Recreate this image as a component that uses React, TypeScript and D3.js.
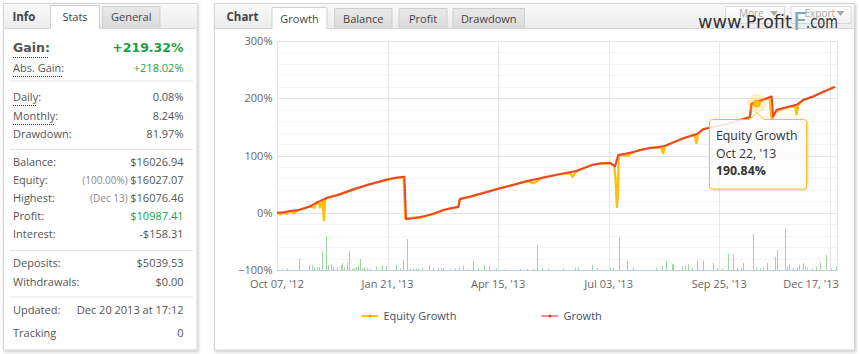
import React from "react";
import * as d3 from "d3";

// ---------- DATA ----------
// x = trading-day index (ordinal axis), y = growth in %
const growthSeries: [number, number][] = [
  [0, 0], [2.5, 1], [4.7, 3], [8, 5], [11.9, 11], [14.9, 19], [18, 26], [22, 31], [27.6, 41],
  [33, 49], [39.7, 58], [43, 61], [46.1, 63], [46.7, -11], [50, -9], [54.2, -5], [57, -1],
  [60.2, 5], [63, 8], [65.6, 10], [66.2, 24], [69.8, 28], [75, 35], [80.1, 42], [85, 48],
  [90.3, 55], [96, 61], [102.4, 67.5], [105, 70], [108.4, 73], [111, 78], [114.4, 84],
  [117, 86], [120.5, 87], [122.3, 81], [123.5, 101], [126, 103], [128.9, 106], [131, 109],
  [134.9, 113], [137, 114], [139.8, 116], [143, 122], [147, 130], [149, 133], [151.8, 137],
  [154.2, 146], [158, 150], [161.5, 153.5], [166, 160], [171.1, 167], [171.7, 190],
  [173.6, 194], [176, 198], [179, 203], [179.5, 168], [180.8, 180], [184, 184], [188, 188.5],
  [190.4, 197], [194, 203], [198, 212], [201.9, 220],
];

const equitySeries: [number, number][] = [
  [0, 0], [1.2, -3], [2.5, 1], [3.4, -2], [4.7, 3], [6, -1], [7.5, 4], [11.9, 11], [13.5, 9],
  [14.4, 19], [15.2, 17], [15.6, 9], [16.0, 19], [16.5, 20], [17.0, -13], [17.4, 22], [18, 26],
  [22, 31], [27.6, 40], [33, 49], [39.7, 57], [43, 61], [45.8, 62], [46.1, 30], [46.4, -10],
  [46.7, -11], [50, -8], [52, -9], [54.2, -5], [57, -2], [60.2, 4], [63, 8], [65.6, 10],
  [66.2, 24], [69.8, 28], [75, 35], [80.1, 42], [85, 48], [90.3, 55], [93, 52], [94, 55],
  [96, 61], [102.4, 67.5], [106, 69], [107, 63], [108.4, 73], [111, 78], [114.4, 84], [117, 86],
  [120.5, 87], [122, 82], [122.5, 60], [123, 10], [123.4, 40], [123.7, 101], [126, 100],
  [126.8, 99], [128.9, 106], [131, 109], [134.9, 113], [137, 114], [139, 114], [139.8, 104],
  [140.3, 116], [143, 122], [147, 130], [151, 137], [151.8, 122], [152.4, 137], [154.2, 146],
  [158, 150], [161.5, 153.5], [166, 160], [171.1, 167], [171.7, 190], [173.6, 190.84],
  [176, 197], [178.3, 201], [178.6, 180], [179, 162], [179.5, 168], [180.8, 178], [184, 183],
  [187.5, 187], [188, 172], [188.6, 188], [190.4, 197], [194, 203], [198, 212], [201.9, 220],
];

// daily volume-like bars, [index, height in % units above the -100% base]
const volumeBars: [number, number][] = [
  [1.7, 2], [3.7, 3], [8.1, 20], [11.7, 9], [12.5, 8], [13.5, 5], [14.4, 5], [15.3, 5],
  [16.4, 32], [17.7, 58], [18.6, 9], [19.4, 10], [20.1, 5], [21.6, 5], [23, 8], [23.4, 12],
  [24.2, 5], [25.4, 13], [26.2, 34], [27, 3], [27.9, 3], [28.6, 5], [29.2, 8], [30, 19],
  [30.6, 3], [31.6, 5], [32.5, 3], [33.6, 2], [35.8, 6], [37.9, 8], [39.4, 6], [43, 10],
  [44.5, 3], [45.5, 17], [47.2, 54], [48.1, 2], [49.3, 2], [50.3, 2], [51.1, 2], [52.3, 3],
  [55.1, 9], [56.5, 3], [58.4, 3], [59.2, 3], [59.9, 3], [62.6, 2], [64.4, 3], [66, 3],
  [67.2, 8], [68.6, 2], [71, 16], [72.8, 3], [74.9, 9], [76.8, 6], [79.2, 3], [82.5, 2],
  [87.9, 2], [90.4, 2], [92.6, 2], [94, 44], [95.8, 4], [98.2, 3], [103.6, 3], [107.8, 4],
  [109, 4], [113.9, 9], [115.7, 3], [120.5, 4], [121.7, 4], [123.8, 57], [126.5, 16],
  [128.7, 4], [137.1, 4], [139.2, 7], [140.6, 16], [142.8, 10], [143.4, 10], [146.4, 6],
  [147.6, 8], [148.8, 10], [150, 3], [151.8, 16], [154, 16], [157.6, 12], [159.1, 3],
  [160.9, 3], [163.1, 29], [165.1, 27], [166.3, 3], [167.8, 4], [168.7, 12], [172.1, 63],
  [173.3, 4], [174.7, 3], [175.9, 4], [177.2, 12], [180.2, 23], [181, 35], [183.9, 73],
  [184.6, 6], [185.3, 10], [186.8, 3], [188, 4], [189, 9], [190.4, 12], [191.1, 6],
  [191.8, 4], [193.7, 3], [194.9, 6], [196.6, 13], [198.8, 26], [200.6, 3], [202.2, 6],
];

const yTickValues = [-100, 0, 100, 200, 300];
const yTickLabels = ["\u2212100%", "0%", "100%", "200%", "300%"];
const xTickIndex = [0, 40, 80, 120, 160, 200];
const xTickLabels = ["Oct 07, '12", "Jan 21, '13", "Apr 15, '13", "Jul 03, '13", "Sep 25, '13", "Dec 17, '13"];

const seriesNames = ["Equity Growth", "Growth"];
const tooltipPoint: [number, number] = [173.6, 190.84];
const tooltipDate = "Oct 22, '13";

const chartTabs = ["Growth", "Balance", "Profit", "Drawdown"];
const infoTabs = ["Stats", "General"];

const statLabels = [
  "Daily:", "Monthly:", "Drawdown:",
  "Balance:", "Equity:", "Highest:", "Profit:", "Interest:",
  "Deposits:", "Withdrawals:",
  "Updated:", "Tracking",
];
const statValues = [
  "0.08%", "8.24%", "81.97%",
  "$16026.94", "$16027.07", "$16076.46", "$10987.41", "-$158.31",
  "$5039.53", "$0.00",
  "Dec 20 2013 at 17:12", "0",
];
const statNotes = ["", "", "", "", "(100.00%)", "(Dec 13)", "", "", "", "", "", ""];

const FONT = "'Open Sans', sans-serif";

export default function App() {
  const plot = { l: 277, r: 838, t: 41, b: 270 };
  const x = d3.scaleLinear().domain([0, 203]).range([plot.l, plot.r]);
  const y = d3.scaleLinear().domain([-100, 300]).range([plot.b, plot.t]);
  const line = d3.line<[number, number]>().x((d) => x(d[0])).y((d) => y(d[1]));
  const minorTicks = d3.range(-100, 301, 20).filter((v) => v % 100 !== 0);

  const growthColor = "#ea4530";
  const equityColor = "#ffbf10";
  const textCol = "#555";

  // rows layout (baselines)
  const rowY = [101, 120, 138, 166, 184, 202, 220, 238, 267, 286, 314, 337];
  const dottedRows = [0, 1];
  const sepY = [81, 149.5, 250.5, 297];

  const tx = x(tooltipPoint[0]);
  const ty = y(tooltipPoint[1]);
  const tipBox = { l: 709.5, r: 806.5, t: 119.5, b: 189 };

  const tipPath = `M ${tipBox.l + 3} ${tipBox.t} L ${tx - 7} ${tipBox.t} L ${tx} ${ty + 9} L ${tx + 7} ${tipBox.t} L ${tipBox.r - 3} ${tipBox.t} Q ${tipBox.r} ${tipBox.t} ${tipBox.r} ${tipBox.t + 3} L ${tipBox.r} ${tipBox.b - 3} Q ${tipBox.r} ${tipBox.b} ${tipBox.r - 3} ${tipBox.b} L ${tipBox.l + 3} ${tipBox.b} Q ${tipBox.l} ${tipBox.b} ${tipBox.l} ${tipBox.b - 3} L ${tipBox.l} ${tipBox.t + 3} Q ${tipBox.l} ${tipBox.t} ${tipBox.l + 3} ${tipBox.t} Z`;

  const chartTabBoxes = [
    [271.5, 327.5], [334, 392.5], [398.5, 447.5], [452.5, 525],
  ];
  const infoTabBoxes = [[50, 100], [102, 160.5]];

  return (
    <svg width={860} height={354} style={{ position: "absolute", left: 0, top: 0, background: "#fff" }} fontFamily={FONT}>
      <defs>
        <filter id="sh" x="-5%" y="-5%" width="110%" height="110%">
          <feDropShadow dx="1" dy="1.5" stdDeviation="1.5" floodColor="#000" floodOpacity="0.22" />
        </filter>
        <filter id="tsh" x="-10%" y="-10%" width="130%" height="130%">
          <feDropShadow dx="1" dy="1" stdDeviation="1.2" floodColor="#000" floodOpacity="0.18" />
        </filter>
        <linearGradient id="hdr" x1="0" y1="0" x2="0" y2="1">
          <stop offset="0" stopColor="#f9f9f9" />
          <stop offset="1" stopColor="#ececec" />
        </linearGradient>
        <linearGradient id="tab" x1="0" y1="0" x2="0" y2="1">
          <stop offset="0" stopColor="#e9e9e9" />
          <stop offset="1" stopColor="#d9d9d9" />
        </linearGradient>
        <linearGradient id="btn" x1="0" y1="0" x2="0" y2="1">
          <stop offset="0" stopColor="#ffffff" />
          <stop offset="1" stopColor="#f0f0f0" />
        </linearGradient>
        <clipPath id="plotclip">
          <rect x={plot.l} y={plot.t - 5} width={plot.r - plot.l + 2} height={plot.b - plot.t + 10} />
        </clipPath>
      </defs>

      {/* ---------- LEFT PANEL ---------- */}
      <rect x={3.5} y={3.5} width={193.5} height={346.5} fill="#fff" stroke="#d6d6d6" filter="url(#sh)" />
      <rect x={4} y={4} width={192.5} height={24} fill="url(#hdr)" />
      <line x1={4} x2={196.5} y1={28.5} y2={28.5} stroke="#d6d6d6" />
      <text x={12.5} y={21} fontSize={11.5} fontWeight="bold" fill="#444">Info</text>
      {infoTabs.map((t, i) => {
        const [a, b] = infoTabBoxes[i];
        const active = i === 0;
        const top = active ? 5.5 : 6.5;
        return (
          <g key={t}>
            <path d={`M ${a + 0.5} ${active ? 29 : 28.5} L ${a + 0.5} ${top} L ${b - 0.5} ${top} L ${b - 0.5} ${active ? 29 : 28.5}`} fill={active ? "#fff" : "url(#tab)"} stroke="#cfcfcf" />
            <text x={(a + b) / 2} y={21} fontSize={11} textAnchor="middle" fill="#444">{t}</text>
          </g>
        );
      })}
      {/* gain rows */}
      <text x={13} y={52} fontSize={12.5} fontWeight="bold" fill="#555" fontFamily="'DejaVu Sans', sans-serif">Gain:</text>
      <text x={183.5} y={52} fontSize={12.5} fontWeight="bold" fill="#1d9c42" textAnchor="end" fontFamily="'DejaVu Sans', sans-serif">+219.32%</text>
      <line x1={13} x2={49} y1={57.5} y2={57.5} stroke="#333" strokeDasharray="1,1" />
      <text x={13} y={72} fontSize={11} fill={textCol}>Abs. Gain:</text>
      <text x={183.5} y={72} fontSize={11} fill="#1d9c42" textAnchor="end">+218.02%</text>
      <line x1={13} x2={62} y1={76.5} y2={76.5} stroke="#333" strokeDasharray="1,1" />
      {sepY.map((s) => (
        <line key={s} x1={10} x2={193} y1={s} y2={s} stroke="#e6e6e6" />
      ))}
      {statLabels.map((lab, i) => (
        <g key={lab}>
          <text x={13} y={rowY[i]} fontSize={11} fill={textCol}>{lab}</text>
          <text x={183.5} y={rowY[i]} fontSize={11} fill={lab === "Profit:" ? "#12a24a" : textCol} textAnchor="end">
            {statNotes[i] ? <tspan fill="#888" fontSize={10}>{statNotes[i] + " "}</tspan> : null}
            <tspan>{statValues[i]}</tspan>
          </text>
          {dottedRows.includes(i) ? (
            <line x1={13} x2={i === 0 ? 36 : 55} y1={rowY[i] + 4.5} y2={rowY[i] + 4.5} stroke="#333" strokeDasharray="1,1" />
          ) : null}
        </g>
      ))}

      {/* ---------- RIGHT PANEL ---------- */}
      <rect x={214.5} y={3.5} width={640} height={346.5} fill="#fff" stroke="#d6d6d6" filter="url(#sh)" />
      <rect x={215} y={4} width={639} height={24} fill="url(#hdr)" />
      <line x1={215} x2={854} y1={28.5} y2={28.5} stroke="#d6d6d6" />
      <text x={226.5} y={21} fontSize={11.5} fontWeight="bold" fill="#444">Chart</text>
      {chartTabs.map((t, i) => {
        const [a, b] = chartTabBoxes[i];
        const active = i === 0;
        const top = active ? 7.5 : 8.5;
        return (
          <g key={t}>
            <path d={`M ${a + 0.5} ${active ? 29 : 28.5} L ${a + 0.5} ${top} L ${b - 0.5} ${top} L ${b - 0.5} ${active ? 29 : 28.5}`} fill={active ? "#fff" : "url(#tab)"} stroke="#cfcfcf" />
            <text x={(a + b) / 2} y={22.5} fontSize={11} textAnchor="middle" fill="#444">{t}</text>
          </g>
        );
      })}
      {/* buttons */}
      {[["More", 725, 785], ["Export", 790.5, 851.5]].map(([label, a, b]) => (
        <g key={label as string}>
          <rect x={(a as number) + 0.5} y={6.5} width={(b as number) - (a as number) - 1} height={17} fill="url(#btn)" stroke="#d8d8d8" rx={1} />
          <text x={(a as number) + 14} y={17} fontSize={10} fill="#aaa">{label}</text>
          <path d={`M ${(b as number) - 15} 11 L ${(b as number) - 7} 11 L ${(b as number) - 11} 16 Z`} fill="#aaa" />
        </g>
      ))}
      {/* watermark */}
      <text x={698} y={28} fontSize={17} fill="#333" fontFamily="'DejaVu Sans', sans-serif" textLength={94} lengthAdjust="spacingAndGlyphs">www.Profit</text>
      <text x={793} y={29.5} fontSize={24} fill="#7fa8b3" fontFamily="'DejaVu Sans', sans-serif" textLength={14} lengthAdjust="spacingAndGlyphs">F</text>
      <text x={806} y={28} fontSize={17} fill="#333" fontFamily="'DejaVu Sans', sans-serif" textLength={32} lengthAdjust="spacingAndGlyphs">.com</text>

      {/* grid */}
      {minorTicks.map((v) => (
        <line key={"m" + v} x1={plot.l} x2={plot.r} y1={Math.round(y(v)) + 0.5} y2={Math.round(y(v)) + 0.5} stroke="#f3f3f3" />
      ))}
      {yTickValues.map((v) => (
        <line key={"g" + v} x1={plot.l} x2={plot.r} y1={Math.round(y(v)) + 0.5} y2={Math.round(y(v)) + 0.5} stroke="#e4e4e4" />
      ))}
      {xTickIndex.map((i) => (
        <line key={"v" + i} x1={Math.round(x(i)) + 0.5} x2={Math.round(x(i)) + 0.5} y1={plot.t} y2={plot.b} stroke="#e6e6e6" />
      ))}
      <line x1={plot.r - 0.5} x2={plot.r - 0.5} y1={plot.t} y2={plot.b} stroke="#e6e6e6" />

      {/* y labels */}
      {yTickValues.map((v, i) => (
        <text key={"yl" + v} x={272.5} y={y(v) + 4} fontSize={11} fill="#666" textAnchor="end">{yTickLabels[i]}</text>
      ))}
      {/* x labels */}
      {xTickIndex.map((i, k) => {
        const cx = x(i);
        const w = 54;
        const cxx = Math.min(cx, plot.r - w / 2);
        return (
          <text key={"xl" + i} x={cxx} y={288} fontSize={11} fill="#666" textAnchor="middle">{xTickLabels[k]}</text>
        );
      })}

      {/* volume bars */}
      {volumeBars.map(([i, v], k) => (
        <line key={"b" + k} x1={Math.round(x(i)) + 0.5} x2={Math.round(x(i)) + 0.5} y1={y(-100)} y2={y(-100 + v)} stroke="#9fd69f" />
      ))}
      <line x1={plot.l} x2={plot.r} y1={plot.b + 0.5} y2={plot.b + 0.5} stroke="#c0d0e0" />

      {/* series */}
      <g clipPath="url(#plotclip)">
        <path d={line(equitySeries) || ""} fill="none" stroke={equityColor} strokeWidth={2.4} strokeLinejoin="round" />
        <path d={line(growthSeries) || ""} fill="none" stroke={growthColor} strokeWidth={2} strokeLinejoin="round" />
      </g>

      {/* hover halo + marker */}
      <circle cx={tx} cy={ty} r={9.5} fill={equityColor} fillOpacity={0.25} />
      <circle cx={tx} cy={ty} r={3.5} fill={equityColor} stroke="#f5a000" strokeWidth={0.8} />

      {/* tooltip */}
      <path d={tipPath} fill="rgba(255,255,255,0.85)" stroke={equityColor} strokeWidth={1} filter="url(#tsh)" />
      <text x={716} y={140} fontSize={12.3} fill="#333">{seriesNames[0]}</text>
      <text x={716} y={157.5} fontSize={12.3} fill="#333">{tooltipDate}</text>
      <text x={716} y={175} fontSize={12.3} fill="#333" fontWeight="bold">{tooltipPoint[1].toFixed(2) + "%"}</text>

      {/* legend */}
      <g>
        <line x1={361.5} x2={378} y1={316} y2={316} stroke={equityColor} strokeWidth={2} />
        <circle cx={370} cy={316} r={1.5} fill="#f0a000" />
        <text x={383.5} y={320} fontSize={11} fill="#3e4f63">{seriesNames[0]}</text>
        <line x1={541.5} x2={558} y1={316} y2={316} stroke="#f28d8d" strokeWidth={2} />
        <circle cx={550} cy={316} r={1.5} fill="#e03a3a" />
        <text x={563.5} y={320} fontSize={11} fill="#3e4f63">{seriesNames[1]}</text>
      </g>
    </svg>
  );
}
